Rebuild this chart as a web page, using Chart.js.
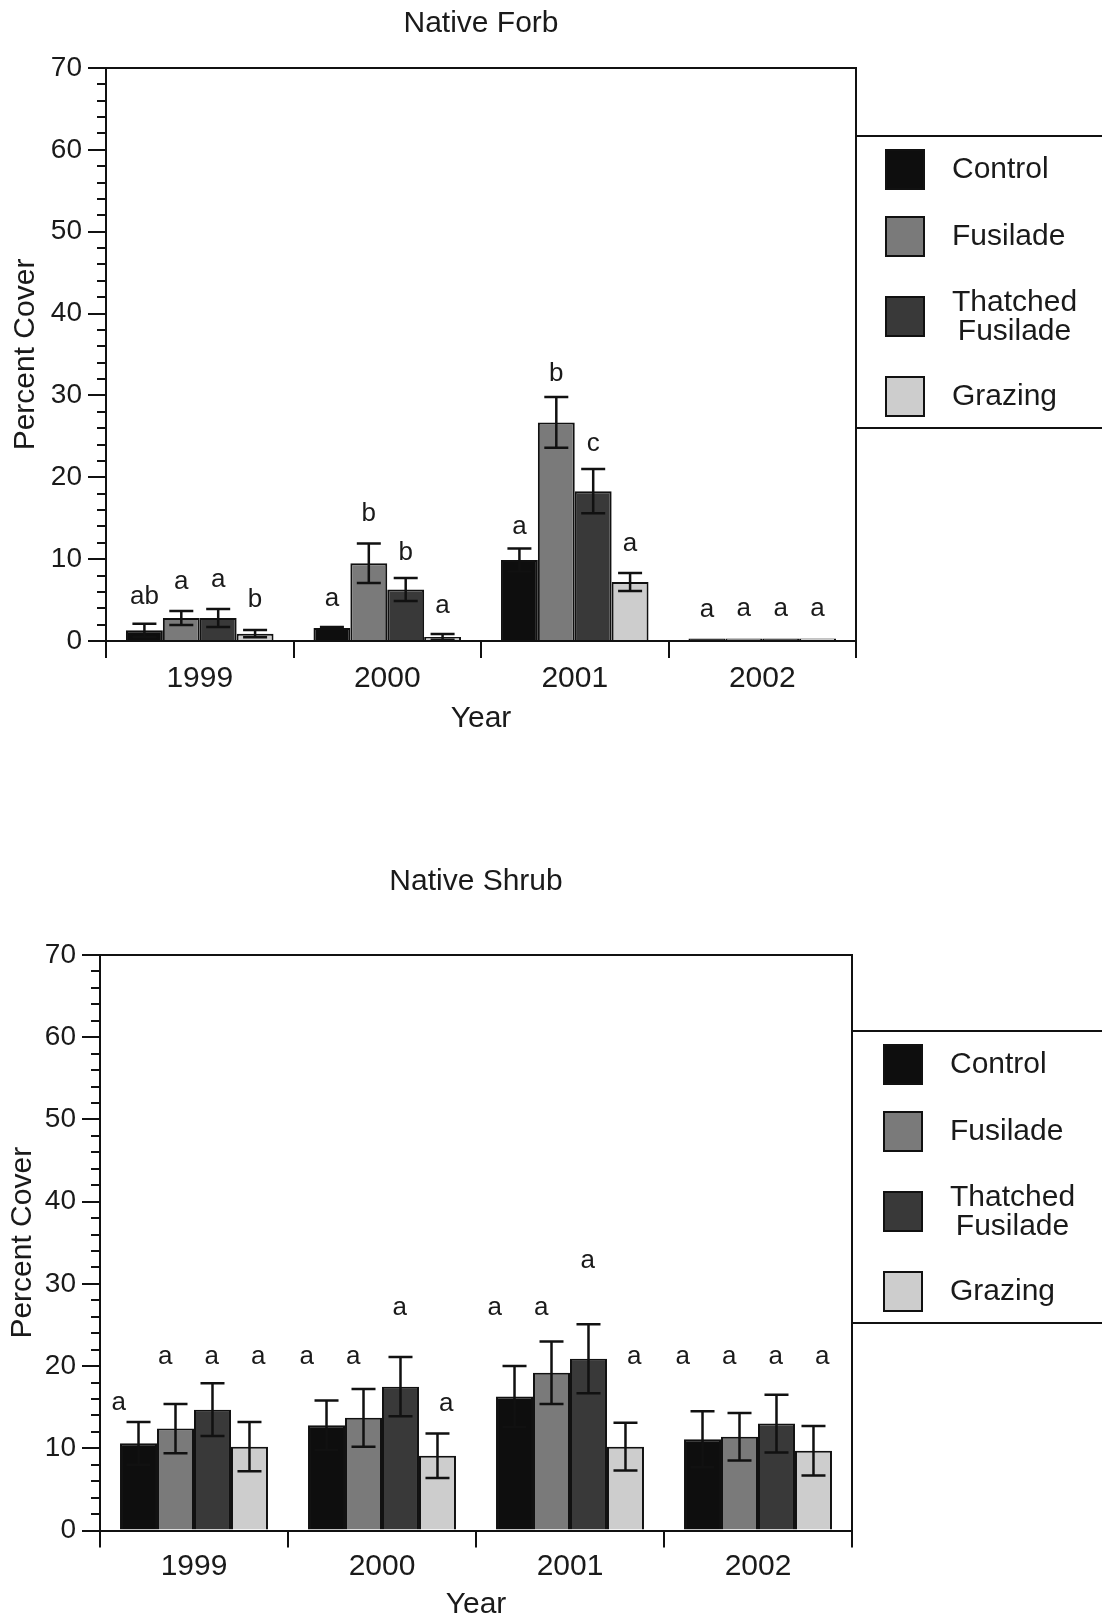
<!DOCTYPE html>
<html>

<head>
    <title>Native Forb / Native Shrub percent cover</title>

    <style>
        html,
        body {
            margin: 0;
            padding: 0;
            background-color: #fff;
        }

        #root {
            position: relative;
            width: 1102px;
            height: 1617px;
        }

        canvas {
            position: absolute;
            left: 0;
        }

        #forb { top: 0; }
        #shrub { top: 828px; }
    </style>
</head>

<body>
    <div id="root">
        <canvas id="forb" width="1102" height="760"></canvas>
        <canvas id="shrub" width="1102" height="789"></canvas>
    </div>
    <script src="https://cdn.jsdelivr.net/npm/chart.js"></script>
    <script>
        const years = ['1999', '2000', '2001', '2002'];
        const treatments = ['Control', 'Fusilade', 'Thatched\nFusilade', 'Grazing'];
        const colors = ['#0e0e0e', '#7a7a7a', '#393939', '#cdcdcd'];

        // Native Forb: mean, error, significance letter, letter height (in % cover)
        const forbControl = [1.3, 1.6, 9.9, 0.3];
        const forbFusilade = [2.8, 9.5, 26.7, 0.3];
        const forbThatched = [2.8, 6.3, 18.3, 0.3];
        const forbGrazing = [0.9, 0.5, 7.2, 0.3];
        const forbControlErr = [0.8, 0.1, 1.4, 0];
        const forbFusiladeErr = [0.85, 2.4, 3.1, 0];
        const forbThatchedErr = [1.1, 1.4, 2.7, 0];
        const forbGrazingErr = [0.45, 0.35, 1.1, 0];
        const forbControlLetters = ['ab', 'a', 'a', 'a'];
        const forbFusiladeLetters = ['a', 'b', 'b', 'a'];
        const forbThatchedLetters = ['a', 'b', 'c', 'a'];
        const forbGrazingLetters = ['b', 'a', 'a', 'a'];
        const forbControlLetterAt = [4.5, 4.3, 13.1, 2.9];
        const forbFusiladeLetterAt = [6.4, 14.6, 31.8, 3.0];
        const forbThatchedLetterAt = [6.6, 9.9, 23.2, 3.0];
        const forbGrazingLetterAt = [4.2, 3.4, 11.0, 3.0];

        // Native Shrub
        const shrubControl = [10.6, 12.8, 16.3, 11.1];
        const shrubFusilade = [12.4, 13.7, 19.2, 11.4];
        const shrubThatched = [14.7, 17.5, 20.9, 13.0];
        const shrubGrazing = [10.2, 9.1, 10.2, 9.7];
        const shrubControlErr = [2.6, 3.0, 3.7, 3.4];
        const shrubFusiladeErr = [3.0, 3.5, 3.8, 2.9];
        const shrubThatchedErr = [3.2, 3.6, 4.2, 3.5];
        const shrubGrazingErr = [3.0, 2.7, 2.9, 3.0];
        const shrubLetters = ['a', 'a', 'a', 'a'];
        const shrubControlLetterAt = [14.7, 20.2, 26.2, 20.2];
        const shrubFusiladeLetterAt = [20.2, 20.2, 26.2, 20.2];
        const shrubThatchedLetterAt = [20.2, 26.2, 31.9, 20.2];
        const shrubGrazingLetterAt = [20.2, 14.5, 20.2, 20.2];

        const yMax = 70;
        const yStep = 10;
        const yMinorStep = 2;

        const FONT = '"Liberation Sans", Arial, Helvetica, sans-serif';
        const INK = '#111';
        Chart.defaults.font.family = FONT;
        Chart.defaults.color = '#1a1a1a';

        // top + right sides of the plot box, and the short unlabelled y ticks
        const framePlugin = {
            id: 'frame',
            afterDraw(chart) {
                const { ctx, chartArea: a } = chart;
                const ys = chart.scales.y;
                ctx.save();
                ctx.strokeStyle = INK;
                ctx.lineWidth = 2;
                ctx.beginPath();
                ctx.moveTo(a.left, a.top);
                ctx.lineTo(a.right, a.top);
                ctx.lineTo(a.right, a.bottom);
                for (let v = yMinorStep; v < yMax; v += yMinorStep) {
                    if (v % yStep === 0) continue;
                    const py = Math.round(ys.getPixelForValue(v));
                    ctx.moveTo(a.left - 9, py);
                    ctx.lineTo(a.left, py);
                }
                ctx.stroke();
                ctx.restore();
            }
        };

        const errorBarPlugin = {
            id: 'errorBars',
            afterDatasetsDraw(chart) {
                const { ctx } = chart;
                const ys = chart.scales.y;
                ctx.save();
                ctx.strokeStyle = INK;
                ctx.lineWidth = 2.5;
                chart.data.datasets.forEach((ds, i) => {
                    chart.getDatasetMeta(i).data.forEach((bar, j) => {
                        const e = ds.errors[j];
                        if (!e) return;
                        const v = ds.data[j];
                        const top = ys.getPixelForValue(v + e);
                        const bot = ys.getPixelForValue(Math.max(v - e, 0));
                        ctx.beginPath();
                        ctx.moveTo(bar.x, top);
                        ctx.lineTo(bar.x, bot);
                        ctx.moveTo(bar.x - 12, top);
                        ctx.lineTo(bar.x + 12, top);
                        ctx.moveTo(bar.x - 12, bot);
                        ctx.lineTo(bar.x + 12, bot);
                        ctx.stroke();
                    });
                });
                ctx.restore();
            }
        };

        const lettersPlugin = {
            id: 'letters',
            afterDatasetsDraw(chart, args, opts) {
                const { ctx } = chart;
                const ys = chart.scales.y;
                const n = chart.data.datasets.length;
                ctx.save();
                ctx.fillStyle = '#1a1a1a';
                ctx.font = `26px ${FONT}`;
                ctx.textAlign = 'center';
                ctx.textBaseline = 'alphabetic';
                chart.data.datasets.forEach((ds, i) => {
                    chart.getDatasetMeta(i).data.forEach((bar, j) => {
                        const x = bar.x + (i - (n - 1) / 2) * opts.spread + opts.shift;
                        ctx.fillText(ds.letters[j], x, ys.getPixelForValue(ds.letterAt[j]));
                    });
                });
                ctx.restore();
            }
        };

        const boxLegendPlugin = {
            id: 'boxLegend',
            afterDraw(chart, args, opts) {
                const { ctx, chartArea: a } = chart;
                const left = a.right;
                const top = a.top + opts.top;
                ctx.save();
                ctx.strokeStyle = INK;
                ctx.lineWidth = 2;
                ctx.strokeRect(left, top, chart.width - left + 10, 292);
                ctx.font = `30px ${FONT}`;
                ctx.textBaseline = 'middle';
                const sx = left + opts.swatchX;
                const tx = sx + 67;
                let y = top + 13;
                const all = chart.data.datasets;
                all.forEach((ds, i) => {
                    const lines = ds.label.split('\n');
                    ctx.fillStyle = ds.backgroundColor;
                    ctx.fillRect(sx, y, 40, 41);
                    ctx.strokeRect(sx + 1, y + 1, 38, 39);
                    const cy = y + 21;
                    const widths = lines.map((t) => ctx.measureText(t).width);
                    const maxW = Math.max(...widths);
                    ctx.fillStyle = '#1a1a1a';
                    lines.forEach((t, k) => {
                        ctx.fillText(t, tx + (maxW - widths[k]) / 2, cy + (k - (lines.length - 1) / 2) * 29);
                    });
                    if (i < all.length - 1) {
                        const nextLines = all[i + 1].label.split('\n').length;
                        y += 67 + 13 * ((lines.length - 1) + (nextLines - 1));
                    }
                });
                ctx.restore();
            }
        };

        const createChart = (id, cfg) => {
            const datasets = cfg.series.map((values, i) => ({
                label: treatments[i],
                data: values,
                errors: cfg.errors[i],
                letters: cfg.letters[i],
                letterAt: cfg.letterAt[i],
                backgroundColor: colors[i],
                borderColor: INK,
                borderWidth: 2,
                categoryPercentage: 0.787,
                barPercentage: 1.0,
            }));

            new Chart(document.getElementById(id), {
                type: 'bar',
                data: { labels: years, datasets },
                options: {
                    responsive: false,
                    animation: false,
                    events: [],
                    layout: { padding: cfg.padding },
                    plugins: {
                        legend: { display: false },
                        tooltip: { enabled: false },
                        title: {
                            display: true,
                            text: cfg.title,
                            fullSize: false,
                            color: '#1a1a1a',
                            font: { size: 30, weight: 'normal', lineHeight: 1.2 },
                            padding: { top: 0, bottom: cfg.titleGap },
                        },
                        letters: { spread: cfg.letterSpread, shift: cfg.letterShift },
                        boxLegend: { top: cfg.legendTop, swatchX: cfg.swatchX },
                    },
                    scales: {
                        x: {
                            offset: true,
                            grid: {
                                offset: true,
                                drawOnChartArea: false,
                                tickLength: cfg.xTickLength,
                                color: INK,
                                lineWidth: 2,
                            },
                            border: { color: INK, width: 2 },
                            ticks: { font: { size: 30, lineHeight: 1.0 }, padding: cfg.xTickPad, color: '#1a1a1a' },
                            title: {
                                display: true,
                                text: 'Year',
                                color: '#1a1a1a',
                                font: { size: 30, lineHeight: cfg.yearLineHeight },
                                padding: 0,
                            },
                            afterFit: (s) => { s.height = cfg.xHeight; },
                        },
                        y: {
                            min: 0,
                            max: yMax,
                            ticks: { stepSize: yStep, font: { size: 28 }, padding: 6, color: '#1a1a1a' },
                            grid: {
                                drawOnChartArea: false,
                                tickLength: 18,
                                color: INK,
                                lineWidth: 2,
                            },
                            border: { color: INK, width: 2 },
                            title: {
                                display: true,
                                text: 'Percent Cover',
                                color: '#1a1a1a',
                                font: { size: 30, lineHeight: 1.0 },
                                padding: { top: cfg.yTitlePad, bottom: 0 },
                            },
                            afterFit: (s) => { s.width = cfg.yWidth; },
                        },
                    },
                },
                plugins: [errorBarPlugin, lettersPlugin, framePlugin, boxLegendPlugin],
            });
        };

        createChart('forb', {
            title: 'Native Forb',
            series: [forbControl, forbFusilade, forbThatched, forbGrazing],
            errors: [forbControlErr, forbFusiladeErr, forbThatchedErr, forbGrazingErr],
            letters: [forbControlLetters, forbFusiladeLetters, forbThatchedLetters, forbGrazingLetters],
            letterAt: [forbControlLetterAt, forbFusiladeLetterAt, forbThatchedLetterAt, forbGrazingLetterAt],
            padding: { top: 6, right: 246, bottom: 26, left: 0 },
            titleGap: 26,
            xHeight: 93,
            xTickLength: 17,
            xTickPad: 6,
            yearLineHeight: 1.0,
            yWidth: 106,
            yTitlePad: 11,
            letterSpread: 0,
            letterShift: 0,
            legendTop: 68,
            swatchX: 29,
        });

        createChart('shrub', {
            title: 'Native Shrub',
            series: [shrubControl, shrubFusilade, shrubThatched, shrubGrazing],
            errors: [shrubControlErr, shrubFusiladeErr, shrubThatchedErr, shrubGrazingErr],
            letters: [shrubLetters, shrubLetters, shrubLetters, shrubLetters],
            letterAt: [shrubControlLetterAt, shrubFusiladeLetterAt, shrubThatchedLetterAt, shrubGrazingLetterAt],
            padding: { top: 36, right: 250, bottom: 1, left: 0 },
            titleGap: 55,
            xHeight: 85.5,
            xTickLength: 17,
            xTickPad: 4,
            yearLineHeight: 0.75,
            yWidth: 100,
            yTitlePad: 8,
            letterSpread: 9.5,
            letterShift: -5.5,
            legendTop: 76,
            swatchX: 31,
        });
    </script>
</body>

</html>
